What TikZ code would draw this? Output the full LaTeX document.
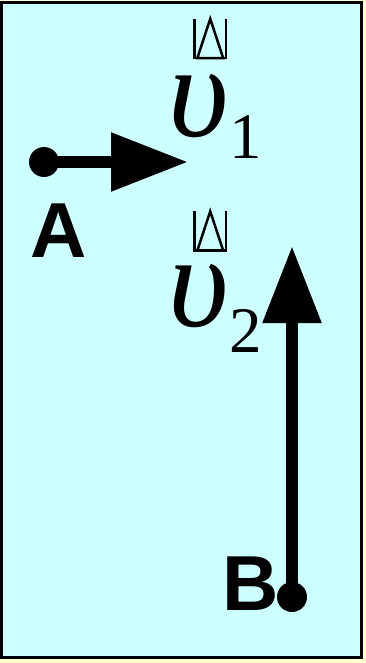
\documentclass[tikz,border=0pt]{standalone}
\usepackage{fontspec}
\setmainfont{Liberation Serif}
\setsansfont{Liberation Sans}
\usetikzlibrary{arrows.meta}
\definecolor{paleyellow}{RGB}{255,255,204}
\definecolor{palecyan}{RGB}{204,255,255}

\begin{document}
\begin{tikzpicture}[
      x=1pt, y=-1pt,
      dot/.style  = {circle, fill=black, minimum size=30pt, inner sep=0pt},
      arr/.style  = {line width=12pt, -{Triangle[length=77pt, width=56pt]}},
      lbl/.style  = {font=\fontsize{78}{78}\selectfont\sffamily\bfseries, inner sep=0pt},
      vel/.style  = {font=\fontsize{132}{132}\selectfont\itshape, inner sep=0pt, anchor=base west},
      sub/.style  = {font=\fontsize{65}{65}\selectfont, inner sep=0pt, anchor=base west},
      glyph/.style = {minimum width=31.5pt, minimum height=39pt, inner sep=0pt},
      gline/.style = {line width=2.5pt},
    ]
    % frame
    \fill[paleyellow] (0,0) rectangle (366,663);
    \draw[line width=3pt, fill=palecyan] (1.5,2.5) rectangle (361.5,657.5);

    % point A and its velocity
    \node[dot] (dotA) at (44,162) {};
    \coordinate (tipA) at (188,162);
    \draw[arr] (dotA.center) -- (tipA);
    \node[lbl] (A) at (59,231) {A};

    % point B and its velocity
    \node[dot] (dotB) at (292,597) {};
    \coordinate (tipB) at (292,246);
    \draw[arr] (dotB.center) -- (tipB);
    \node[lbl] (B) at (251,583.5) {B};

    % velocity labels
    \node[vel] (v1) at (168,137) {υ};
    \node[sub] (n1) at (229,159) {1};
    \node[glyph] (g1) at (210.25,38.5) {};
    \node[vel] (v2) at (168,326) {υ};
    \node[sub] (n2) at (229,352) {2};
    \node[glyph] (g2) at (210.25,231) {};

    \draw[gline] (g1.north west) -- (g1.south west) -- (g1.south east) -- (g1.north east);
    \draw[gline] (g1.north) -- ([xshift=3pt]g1.south west) -- ([xshift=-3pt]g1.south east) -- cycle;
    \draw[gline] (g2.north west) -- (g2.south west) -- (g2.south east) -- (g2.north east);
    \draw[gline] (g2.north) -- ([xshift=3pt]g2.south west) -- ([xshift=-3pt]g2.south east) -- cycle;
  \end{tikzpicture}
\end{document}
